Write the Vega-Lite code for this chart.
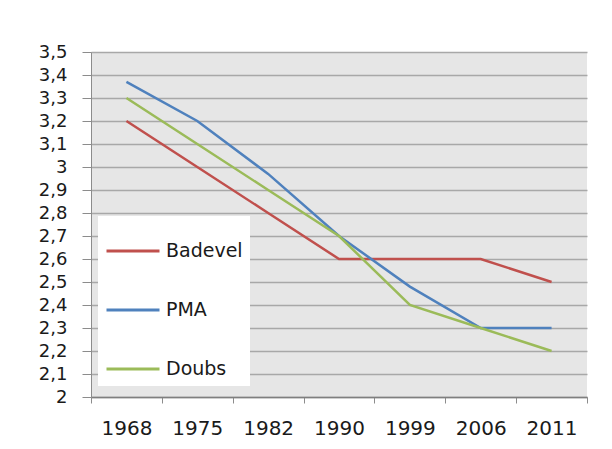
{
  "$schema": "https://vega.github.io/schema/vega-lite/v6.json",
  "width": 496,
  "height": 345,
  "autosize": {"type": "none"},
  "padding": {"left": 91, "top": 52, "right": 25, "bottom": 52},
  "background": "white",
  "data": {
    "values": [
      {"annee": "1968", "serie": "Badevel", "valeur": 3.2},
      {"annee": "1975", "serie": "Badevel", "valeur": 3.0},
      {"annee": "1982", "serie": "Badevel", "valeur": 2.8},
      {"annee": "1990", "serie": "Badevel", "valeur": 2.6},
      {"annee": "1999", "serie": "Badevel", "valeur": 2.6},
      {"annee": "2006", "serie": "Badevel", "valeur": 2.6},
      {"annee": "2011", "serie": "Badevel", "valeur": 2.5},
      {"annee": "1968", "serie": "PMA", "valeur": 3.37},
      {"annee": "1975", "serie": "PMA", "valeur": 3.2},
      {"annee": "1982", "serie": "PMA", "valeur": 2.97},
      {"annee": "1990", "serie": "PMA", "valeur": 2.7},
      {"annee": "1999", "serie": "PMA", "valeur": 2.48},
      {"annee": "2006", "serie": "PMA", "valeur": 2.3},
      {"annee": "2011", "serie": "PMA", "valeur": 2.3},
      {"annee": "1968", "serie": "Doubs", "valeur": 3.3},
      {"annee": "1975", "serie": "Doubs", "valeur": 3.1},
      {"annee": "1982", "serie": "Doubs", "valeur": 2.9},
      {"annee": "1990", "serie": "Doubs", "valeur": 2.7},
      {"annee": "1999", "serie": "Doubs", "valeur": 2.4},
      {"annee": "2006", "serie": "Doubs", "valeur": 2.3},
      {"annee": "2011", "serie": "Doubs", "valeur": 2.2}
    ]
  },
  "mark": {"type": "line", "strokeWidth": 2.5},
  "encoding": {
    "x": {
      "field": "annee",
      "type": "ordinal",
      "scale": {"type": "band", "paddingInner": 0, "paddingOuter": 0},
      "axis": {
        "title": null,
        "labelAngle": 0,
        "tickBand": "extent",
        "grid": false,
        "domainColor": "#7f7f7f",
        "domainWidth": 1.5,
        "tickColor": "#8c8c8c",
        "tickSize": 6,
        "labelPadding": 15,
        "labelFont": "DejaVu Sans",
        "labelFontSize": 20,
        "labelColor": "#1a1a1a"
      }
    },
    "y": {
      "field": "valeur",
      "type": "quantitative",
      "scale": {"domain": [2, 3.5], "nice": false, "zero": false},
      "axis": {
        "title": null,
        "values": [2, 2.1, 2.2, 2.3, 2.4, 2.5, 2.6, 2.7, 2.8, 2.9, 3, 3.1, 3.2, 3.3, 3.4, 3.5],
        "labelExpr": "replace(format(datum.value, '.1~f'), '.', ',')",
        "domainColor": "#8c8c8c",
        "tickColor": "#8c8c8c",
        "tickSize": 9,
        "labelPadding": 15,
        "labelFont": "DejaVu Sans",
        "labelFontSize": 18,
        "labelColor": "#1a1a1a",
        "gridColor": "#a8a8a8",
        "gridWidth": 1.5
      }
    },
    "color": {
      "field": "serie",
      "type": "nominal",
      "sort": ["Badevel", "PMA", "Doubs"],
      "scale": {"domain": ["Badevel", "PMA", "Doubs"], "range": ["#c0504d", "#4f81bd", "#9bbb59"]},
      "legend": {
        "title": null,
        "orient": "none",
        "legendX": 7,
        "legendY": 164,
        "fillColor": "white",
        "padding": 7,
        "symbolType": "stroke",
        "symbolSize": 2809,
        "symbolStrokeWidth": 3,
        "labelFont": "DejaVu Sans",
        "labelFontSize": 19,
        "labelColor": "#1a1a1a",
        "labelOffset": 5,
        "rowPadding": 21,
        "labelLimit": 200
      }
    }
  },
  "config": {
    "view": {"fill": "#e6e6e6", "stroke": null}
  }
}
